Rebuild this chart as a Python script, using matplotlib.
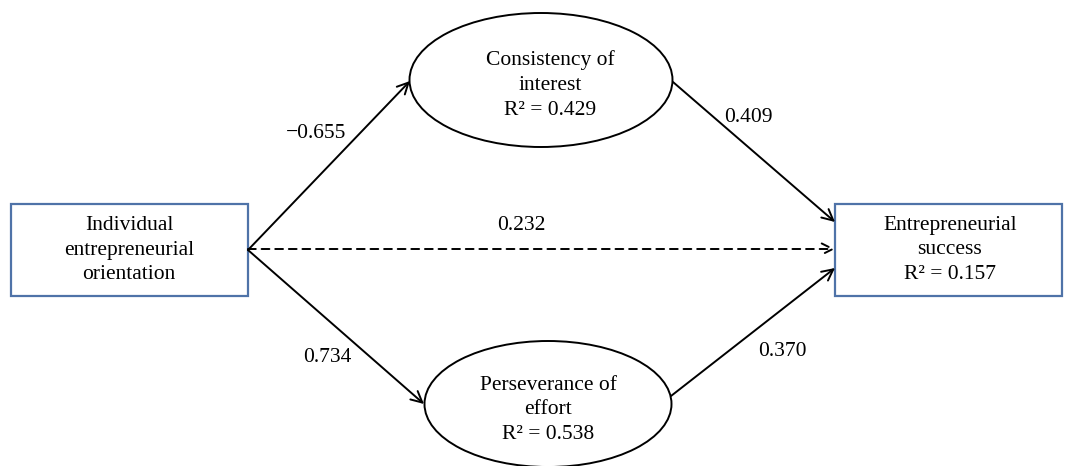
import matplotlib.pyplot as plt
from matplotlib.patches import Rectangle, Ellipse

# -----------------------------
# DATA
# -----------------------------
node_labels = [
    "Individual\nentrepreneurial\norientation",
    "Consistency of\ninterest\nR² = 0.429",
    "Perseverance of\neffort\nR² = 0.538",
    "Entrepreneurial\nsuccess\nR² = 0.157",
]
path_labels = ["\u22120.655", "0.734", "0.232", "0.409", "0.370"]

plt.rcParams["font.family"] = ["Liberation Serif", "DejaVu Serif"]
FS = 15.5

fig = plt.figure(figsize=(10.66, 4.66), dpi=100)
ax = fig.add_axes([0, 0, 1, 1])
ax.set_xlim(0, 1066)
ax.set_ylim(466, 0)
ax.axis("off")

# -----------------------------
# NODES
# -----------------------------
box_col = "#4f73a8"
ax.add_patch(Rectangle((11, 204), 237, 92, fill=False, ec=box_col, lw=1.6))
ax.add_patch(Rectangle((835, 204), 227, 92, fill=False, ec=box_col, lw=1.6))
ax.add_patch(Ellipse((541, 80), 263, 134, fill=False, ec="black", lw=1.4))
ax.add_patch(Ellipse((548, 404), 247, 126, fill=False, ec="black", lw=1.4))

txt = dict(ha="center", va="center", fontsize=FS, linespacing=1.4)
ax.text(129, 250, node_labels[0], **txt)
ax.text(550, 85, node_labels[1], **txt)
ax.text(548, 410, node_labels[2], **txt)
ax.text(950, 250, node_labels[3], **txt)

# -----------------------------
# PATHS
# -----------------------------
def arrow(x0, y0, x1, y1, ls="-"):
    ax.annotate("", xy=(x1, y1), xytext=(x0, y0),
                arrowprops=dict(arrowstyle="->,head_length=0.8,head_width=0.4",
                                color="black", lw=1.4, linestyle=ls,
                                shrinkA=0, shrinkB=0))

arrow(248, 250, 410, 81)
arrow(248, 250, 424, 404)
arrow(248, 249, 835, 249, ls=(0, (4, 3)))
arrow(673, 82, 835, 222)
arrow(671, 396, 835, 268)

ax.text(316, 134, path_labels[0], ha="center", va="center", fontsize=FS)
ax.text(327, 357, path_labels[1], ha="center", va="center", fontsize=FS)
ax.text(521, 226, path_labels[2], ha="center", va="center", fontsize=FS)
ax.text(748, 117, path_labels[3], ha="center", va="center", fontsize=FS)
ax.text(782, 352, path_labels[4], ha="center", va="center", fontsize=FS)

fig.savefig("out.png", dpi=100)
